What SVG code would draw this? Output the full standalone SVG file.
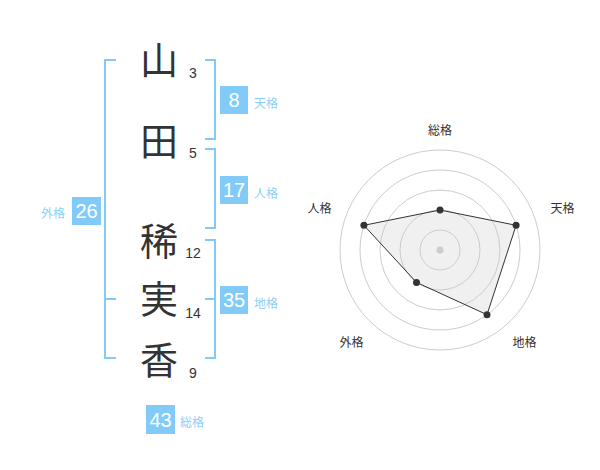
<svg xmlns="http://www.w3.org/2000/svg" width="600" height="470" viewBox="0 0 600 470">
<style>
.kanji{font-family:"Noto Sans CJK JP","Noto Sans CJK SC",sans-serif;font-size:38px;fill:#333;text-anchor:middle}
.num{font-family:"Liberation Sans",Arial,sans-serif;font-size:14px;fill:#333;text-anchor:middle}
.box{fill:#82cbf8}
.bnum{font-family:"Liberation Sans",Arial,sans-serif;font-size:20px;fill:#fff;text-anchor:middle}
.lbl{font-family:"Noto Sans CJK JP","Noto Sans CJK SC",sans-serif;font-size:12px;fill:#8ccff8}
.br{fill:none;stroke:#82cbf8;stroke-width:2}
.ring{fill:none;stroke:#cccccc;stroke-width:1}
.rl{font-family:"Noto Sans CJK JP","Noto Sans CJK SC",sans-serif;font-size:12px;fill:#333;text-anchor:middle}
.pt{fill:#333}
</style>
<rect width="600" height="470" fill="#fff"/>
<g id="connectors">
<path class="br" d="M116,60 H105 V358 H116 M105,299 H116"/>
<path class="br" d="M205,60 H215 V139 H205"/>
<path class="br" d="M205,149 H215 V228 H205"/>
<path class="br" d="M205,240 H215 V358 H205 M205,299 H215"/>
</g>
<g id="char-yama"><text class="kanji" x="159" y="74">山</text><text class="num" x="193" y="78">3</text></g>
<g id="char-ta"><text class="kanji" x="159" y="155">田</text><text class="num" x="193" y="158">5</text></g>
<g id="char-ki"><text class="kanji" x="159" y="255">稀</text><text class="num" x="193" y="258">12</text></g>
<g id="char-mi"><text class="kanji" x="159" y="313">実</text><text class="num" x="193" y="318">14</text></g>
<g id="char-ka"><text class="kanji" x="159" y="374">香</text><text class="num" x="193" y="378">9</text></g>
<g id="tenkaku"><rect class="box" x="220" y="86" width="28" height="28"/><text class="bnum" x="234" y="107">8</text><text class="lbl" x="254" y="108">天格</text></g>
<g id="jinkaku"><rect class="box" x="220" y="176" width="28" height="28"/><text class="bnum" x="234" y="197">17</text><text class="lbl" x="254" y="198">人格</text></g>
<g id="chikaku"><rect class="box" x="220" y="286" width="28" height="28"/><text class="bnum" x="234" y="307">35</text><text class="lbl" x="254" y="308">地格</text></g>
<g id="gaikaku"><rect class="box" x="72" y="197" width="29" height="28"/><text class="bnum" x="86.5" y="218">26</text><text class="lbl" x="65" y="218" text-anchor="end">外格</text></g>
<g id="soukaku"><rect class="box" x="146" y="405" width="29" height="29"/><text class="bnum" x="160.5" y="427">43</text><text class="lbl" x="180" y="427">総格</text></g>
<g id="radar">
<polygon points="440,210 516.1,225.3 487,314.7 416.5,282.4 363.9,225.3" fill="#f0f0f0" stroke="none"/>
<circle class="ring" cx="440" cy="250" r="20"/>
<circle class="ring" cx="440" cy="250" r="40"/>
<circle class="ring" cx="440" cy="250" r="60"/>
<circle class="ring" cx="440" cy="250" r="80"/>
<circle class="ring" cx="440" cy="250" r="100"/>
<circle cx="440" cy="250" r="3.5" fill="#cccccc"/>
<polygon points="440,210 516.1,225.3 487,314.7 416.5,282.4 363.9,225.3" fill="none" stroke="#333" stroke-width="1"/>
<circle class="pt" cx="440" cy="210" r="3.5"/>
<circle class="pt" cx="516.1" cy="225.3" r="3.5"/>
<circle class="pt" cx="487" cy="314.7" r="3.5"/>
<circle class="pt" cx="416.5" cy="282.4" r="3.5"/>
<circle class="pt" cx="363.9" cy="225.3" r="3.5"/>
<text class="rl" x="440" y="134.5">総格</text>
<text class="rl" x="562.5" y="213">天格</text>
<text class="rl" x="524.5" y="346.5">地格</text>
<text class="rl" x="351.5" y="346.5">外格</text>
<text class="rl" x="319.5" y="213">人格</text>
</g>
</svg>
